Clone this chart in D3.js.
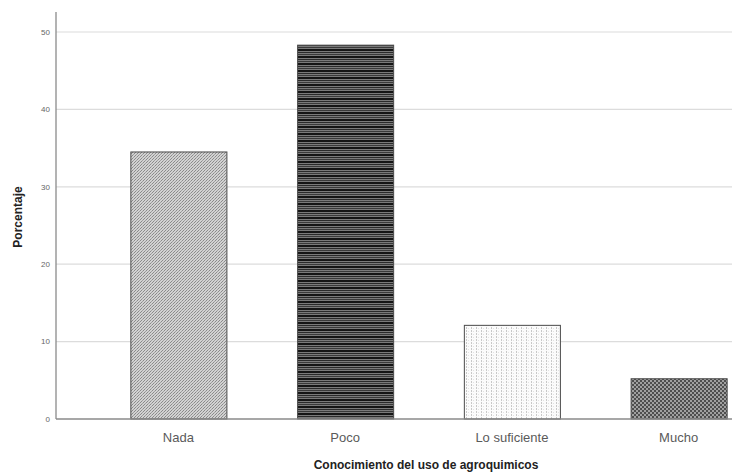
<!DOCTYPE html>
<html><head><meta charset="utf-8">
<script src="https://cdn.jsdelivr.net/npm/d3@7"></script>
<style>body{margin:0;background:#fff}svg{display:block}</style>
</head><body><svg id="c" width="732" height="474"></svg>
<script>
const categories = ["Nada", "Poco", "Lo suficiente", "Mucho"];
const values = [34.5, 48.3, 12.1, 5.2];
const yTicks = [0, 10, 20, 30, 40, 50];
const patternIds = ["pNada", "pPoco", "pSuf", "pMucho"];

const svg = d3.select("#c");
const defs = svg.append("defs");

// Nada: light gray diagonal texture
let p = defs.append("pattern").attr("id","pNada").attr("patternUnits","userSpaceOnUse").attr("width",3).attr("height",3);
p.append("rect").attr("width",3).attr("height",3).attr("fill","#d2d2d2");
p.append("rect").attr("x",0).attr("y",2).attr("width",1).attr("height",1).attr("fill","#8a8a8a");
p.append("rect").attr("x",1).attr("y",1).attr("width",1).attr("height",1).attr("fill","#a0a0a0");
p.append("rect").attr("x",2).attr("y",0).attr("width",1).attr("height",1).attr("fill","#8a8a8a");

// Poco: dark horizontal stripes
p = defs.append("pattern").attr("id","pPoco").attr("patternUnits","userSpaceOnUse").attr("width",4).attr("height",7);
p.append("rect").attr("width",4).attr("height",7).attr("fill","#7a7a7a");
p.append("rect").attr("y",0).attr("width",4).attr("height",2).attr("fill","#151515");
p.append("rect").attr("y",3).attr("width",4).attr("height",1).attr("fill","#2a2a2a");
p.append("rect").attr("y",5).attr("width",4).attr("height",1).attr("fill","#3a3a3a");

// Lo suficiente: white with faint vertical dotted lines
p = defs.append("pattern").attr("id","pSuf").attr("patternUnits","userSpaceOnUse").attr("width",5).attr("height",3);
p.append("rect").attr("width",5).attr("height",3).attr("fill","#fbfbfb");
p.append("rect").attr("x",1).attr("y",0).attr("width",1).attr("height",2).attr("fill","#c8c8c8");
p.append("rect").attr("x",3).attr("y",1).attr("width",1).attr("height",1).attr("fill","#e2e2e2");

// Mucho: checkerboard
p = defs.append("pattern").attr("id","pMucho").attr("patternUnits","userSpaceOnUse").attr("width",4).attr("height",4);
p.append("rect").attr("width",4).attr("height",4).attr("fill","#a0a0a0");
p.append("rect").attr("x",0).attr("y",0).attr("width",2).attr("height",2).attr("fill","#4e4e4e");
p.append("rect").attr("x",2).attr("y",2).attr("width",2).attr("height",2).attr("fill","#4e4e4e");

const x0 = 56, yBase = 419;
const y = d3.scaleLinear().domain([0, 50]).range([yBase, 32]);
const x = d3.scaleBand().domain(categories).range([95, 762]).paddingInner(0.424).paddingOuter(0.212);

// gridlines
svg.append("g").selectAll("line").data(yTicks.filter(d => d > 0)).join("line")
  .attr("x1", x0).attr("x2", 732).attr("y1", d => y(d)).attr("y2", d => y(d))
  .attr("stroke", "#dcdcdc").attr("stroke-width", 1.2);

// bars
svg.append("g").selectAll("rect").data(values).join("rect")
  .attr("x", (d,i) => x(categories[i]) + 0.5)
  .attr("y", d => y(d))
  .attr("width", x.bandwidth())
  .attr("height", d => yBase - y(d))
  .attr("fill", (d,i) => `url(#${patternIds[i]})`)
  .attr("stroke", "#4a4a4a").attr("stroke-width", 1);

// axes lines
svg.append("line").attr("x1", x0).attr("x2", x0).attr("y1", 12).attr("y2", yBase)
  .attr("stroke", "#8a8a8a").attr("stroke-width", 1.3);
svg.append("line").attr("x1", x0).attr("x2", 732).attr("y1", yBase).attr("y2", yBase)
  .attr("stroke", "#8a8a8a").attr("stroke-width", 1.3);

// y tick labels
svg.append("g").selectAll("text").data(yTicks).join("text")
  .attr("x", 50).attr("y", d => y(d)).attr("dy", "0.35em")
  .attr("text-anchor", "end").attr("font-family", "Liberation Sans, Arial, sans-serif")
  .attr("font-size", 8).attr("fill", "#666").text(d => d);

// x category labels
svg.append("g").selectAll("text").data(categories).join("text")
  .attr("x", d => x(d) + x.bandwidth()/2).attr("y", 442)
  .attr("text-anchor", "middle").attr("font-family", "Liberation Sans, Arial, sans-serif")
  .attr("font-size", 13).attr("fill", "#5a5a5a").text(d => d);

// axis titles
svg.append("text").attr("x", 426).attr("y", 469).attr("text-anchor", "middle")
  .attr("font-family", "Liberation Sans, Arial, sans-serif").attr("font-weight", "bold")
  .attr("font-size", 12).attr("fill", "#222").text("Conocimiento del uso de agroquimicos");
svg.append("text").attr("transform", "translate(22,217) rotate(-90)").attr("text-anchor", "middle")
  .attr("font-family", "Liberation Sans, Arial, sans-serif").attr("font-weight", "bold")
  .attr("font-size", 12).attr("fill", "#222").text("Porcentaje");
</script></body></html>
